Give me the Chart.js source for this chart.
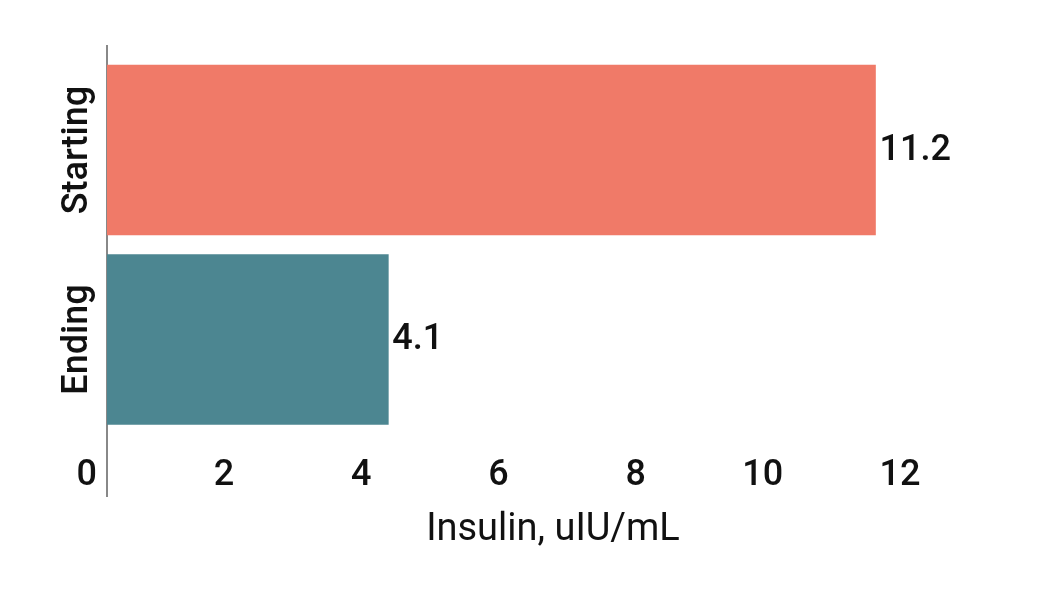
<!DOCTYPE html>
<html>
<head>
<meta charset="utf-8">
<title>Insulin, starting vs ending</title>
<script src="https://cdn.jsdelivr.net/npm/chart.js@4.4.1/dist/chart.umd.min.js"></script>
<style>
    html, body { margin: 0; padding: 0; background: #fff; }
    #wrap { width: 1044px; height: 606px; }
</style>
</head>
<body>
<div id="wrap"><canvas id="myChart"></canvas></div>
<script>
const categories = ['Starting', 'Ending'];
const insulin_values = [11.2, 4.1];
const bar_colors = ['#F07A68', '#4C8691'];
const x_ticks = [0, 2, 4, 6, 8, 10, 12];
const x_title = 'Insulin, uIU/mL';

const FONT = 'Roboto, "Noto Sans", sans-serif';
const FONT_MED = '"Roboto Medium", Roboto, "Noto Sans", sans-serif';

// value written just right of each bar end
const valueLabels = {
    id: 'valueLabels',
    afterDatasetsDraw(chart) {
        const ctx = chart.ctx;
        const meta = chart.getDatasetMeta(0);
        ctx.save();
        ctx.font = `500 36px ${FONT_MED}`;
        ctx.fillStyle = '#111';
        ctx.textAlign = 'left';
        ctx.textBaseline = 'middle';
        meta.data.forEach((bar, i) => {
            ctx.fillText(insulin_values[i].toFixed(1), bar.x + 4, bar.y - 1);
        });
        ctx.restore();
    }
};

const data = {
    datasets: [
        {
            label: 'Insulin',
            backgroundColor: bar_colors,
            borderWidth: 0,
            barThickness: 170,
            data: insulin_values.map((v, i) => ({ x: v, y: i }))
        }
    ]
};

const config = {
    type: 'bar',
    data: data,
    options: {
        indexAxis: 'y',
        responsive: true,
        maintainAspectRatio: false,
        animation: false,
        layout: {
            padding: { top: 46, right: 45, left: 0, bottom: 0 }
        },
        plugins: {
            legend: { display: false },
            tooltip: { enabled: false }
        },
        scales: {
            x: {
                type: 'linear',
                min: 0,
                max: 13,
                grid: { display: false, drawTicks: false },
                border: { display: false },
                afterBuildTicks: (scale) => {
                    scale.ticks = x_ticks.map(v => ({ value: v }));
                },
                afterFit: (scale) => { scale.height = 110; },
                ticks: {
                    align: 'end',
                    labelOffset: -10,
                    mirror: true,
                    padding: 0,
                    color: '#111',
                    font: { family: FONT_MED, size: 36, weight: 500 }
                },
                title: {
                    display: true,
                    text: x_title,
                    color: '#111',
                    font: { family: FONT, size: 38, weight: 400 },
                    padding: { top: 0, bottom: 53 }
                }
            },
            y: {
                type: 'linear',
                reverse: true,
                offset: false,
                min: -0.549,
                max: 1.826,
                grid: { display: false, drawTicks: false, offset: false },
                border: { display: true, color: '#888', width: 2 },
                afterBuildTicks: (scale) => {
                    scale.ticks = categories.map((c, i) => ({ value: i }));
                },
                afterFit: (scale) => { scale.width = 107; },
                ticks: {
                    callback: (v) => categories[v],
                    minRotation: 90,
                    maxRotation: 90,
                    crossAlign: 'center',
                    padding: -34,
                    color: '#111',
                    font: { family: FONT_MED, size: 36, weight: 500 }
                }
            }
        }
    },
    plugins: [valueLabels]
};

const ctx = document.getElementById('myChart').getContext('2d');
const myChart = new Chart(ctx, config);
</script>
</body>
</html>
